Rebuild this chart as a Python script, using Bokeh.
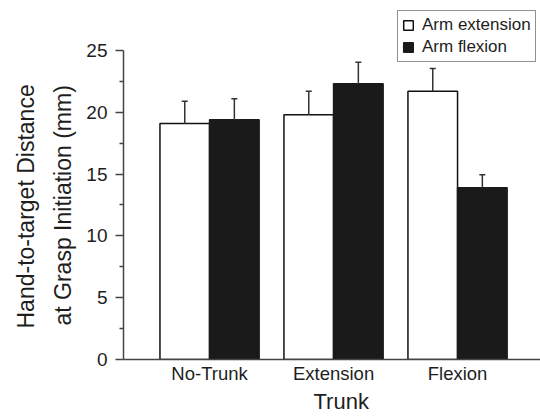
from bokeh.plotting import figure
from bokeh.models import Range1d, FixedTicker, Whisker, TeeHead, ColumnDataSource, Title
from bokeh.embed import file_html
from bokeh.resources import INLINE

categories = ["No-Trunk", "Extension", "Flexion"]
series_names = ["Arm extension", "Arm flexion"]
arm_extension = [19.1, 19.8, 21.7]
arm_extension_err = [1.8, 1.9, 1.85]
arm_flexion = [19.4, 22.3, 13.9]
arm_flexion_err = [1.7, 1.75, 1.05]
y_ticks = [0, 5, 10, 15, 20, 25]
y_minor_ticks = [2.5, 7.5, 12.5, 17.5, 22.5]

FONT = "Liberation Sans"
TXT = "#1e1e1e"
AX = "#444444"

centers = [i + 1 for i in range(len(categories))]
off = 0.2
src_ext = ColumnDataSource(dict(
    x=[c - off for c in centers], top=arm_extension,
    upper=[v + e for v, e in zip(arm_extension, arm_extension_err)]))
src_flx = ColumnDataSource(dict(
    x=[c + off for c in centers], top=arm_flexion,
    upper=[v + e for v, e in zip(arm_flexion, arm_flexion_err)]))

p = figure(width=540, height=418, output_backend="svg", toolbar_location=None,
           x_range=Range1d(0.306, 3.669), y_range=Range1d(0, 28.72),
           min_border_left=123, min_border_right=0, min_border_top=4,
           min_border_bottom=59)
p.outline_line_color = None
p.xgrid.grid_line_color = None
p.ygrid.grid_line_color = None
p.background_fill_color = "white"

for src in (src_ext, src_flx):
    w = Whisker(base="x", lower="top", upper="upper", source=src,
                line_color="#333333", line_width=1.5, lower_head=None,
                upper_head=TeeHead(size=6, line_color="#333333", line_width=1.5),
                level="annotation")
    p.add_layout(w)

p.vbar(x="x", top="top", width=0.4, source=src_ext, fill_color="white",
       line_color="#111111", line_width=1.5, legend_label=series_names[0])
p.vbar(x="x", top="top", width=0.4, source=src_flx, fill_color="#1a1a1a",
       line_color="#1a1a1a", line_width=1.5, legend_label=series_names[1])

# y axis
ya = p.yaxis[0]
ya.ticker = FixedTicker(ticks=y_ticks, minor_ticks=y_minor_ticks)
ya.bounds = (0, 25)
ya.axis_line_color = AX
ya.axis_line_width = 1.5
ya.major_tick_line_color = AX
ya.major_tick_line_width = 1.5
ya.minor_tick_line_color = AX
ya.minor_tick_line_width = 1.5
ya.major_tick_in = 0
ya.major_tick_out = 8
ya.minor_tick_in = 0
ya.minor_tick_out = 4
ya.major_label_standoff = 8
ya.major_label_text_font = FONT
ya.major_label_text_font_size = "19px"
ya.major_label_text_color = TXT

# x axis
xa = p.xaxis[0]
xa.ticker = FixedTicker(ticks=centers, minor_ticks=[])
xa.major_label_overrides = {c: n for c, n in zip(centers, categories)}
xa.axis_line_color = AX
xa.axis_line_width = 1.5
xa.major_tick_line_color = None
xa.minor_tick_line_color = None
xa.major_tick_in = 0
xa.major_tick_out = 0
xa.major_label_standoff = 3
xa.major_label_text_font = FONT
xa.major_label_text_font_size = "18.5px"
xa.major_label_text_color = TXT

# axis titles (as side titles so they are not clipped)
def side_title(text, size, offset, standoff):
    return Title(text=text, align="left", offset=offset, standoff=standoff,
                 text_font=FONT, text_font_size=size, text_font_style="normal",
                 text_color=TXT)

p.add_layout(side_title("at Grasp Initiation (mm)", "23px", 34, 16), "left")
p.add_layout(side_title("Hand-to-target Distance", "23px", 31, 2), "left")
p.add_layout(side_title("Trunk", "22px", 190, 0), "below")

lg = p.legend[0]
lg.location = (274, 297)
lg.border_line_color = "#222222"
lg.border_line_width = 1
lg.label_text_font = FONT
lg.label_text_font_size = "17px"
lg.label_text_color = TXT
lg.glyph_height = 12
lg.glyph_width = 12
lg.padding = 4
lg.spacing = 2
lg.margin = 0
lg.label_standoff = 8
lg.label_height = 20
lg.background_fill_alpha = 1.0

open("out.html", "w").write(file_html(p, INLINE))
